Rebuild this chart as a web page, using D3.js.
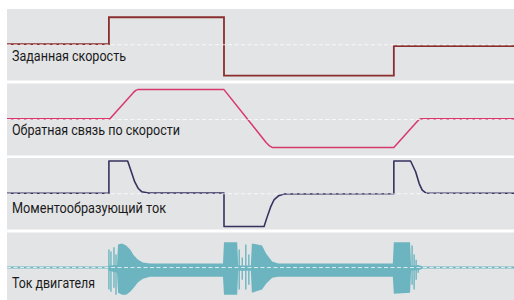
<!DOCTYPE html>
<html>
<head>
<meta charset="utf-8">
<script src="https://cdn.jsdelivr.net/npm/d3@7"></script>
<style>
  body { margin: 0; background: #fff; }
</style>
</head>
<body>
<div id="wrapper"></div>
<script>
// time axis runs 0..10 s, values are relative to the dashed zero line

const labels = ["Заданная скорость", "Обратная связь по скорости", "Моментообразующий ток", "Ток двигателя"]

const setpointTime = [0, 2.01, 4.28, 7.63, 10]
const setpointValue = [0.02, 1.0, -1.12, -0.05, -0.05]

const feedbackTime = [0, 2.03, 2.49, 2.54, 2.58, 4.28, 5.11, 5.17, 5.23, 7.63, 8.09, 8.13, 8.17, 10]
const feedbackValue = [0.03, 0.03, 0.97, 1.05, 1.08, 1.08, -0.83, -0.94, -1.01, -1.01, -0.07, 0.0, 0.03, 0.03]

const torqueTime = [0, 2.01, 2.01, 2.38, 2.52, 2.59, 2.66, 2.79, 4.28, 4.28, 5.07, 5.13, 5.20, 5.27, 5.36, 5.46, 7.63, 7.63, 7.96, 8.06, 8.13, 8.19, 8.26, 10]
const torqueValue = [0.02, 0.02, 1.19, 1.19, 0.43, 0.19, 0.07, 0.03, 0.03, -1.19, -1.19, -0.85, -0.48, -0.21, -0.07, -0.01, 0.0, 1.19, 1.19, 0.80, 0.37, 0.13, 0.03, 0.02]

// motor current: envelope of the oscillation (upper / lower)
const motorTime = [0, 1.99, 2.01, 2.17, 2.19, 2.27, 2.35, 2.43, 2.50, 2.58, 2.68, 2.82, 4.26, 4.28, 4.54, 4.56, 4.81, 4.83, 5.03, 5.11, 5.23, 5.35, 7.61, 7.63, 7.95, 7.97, 8.15, 8.19, 10]
const motorHigh = [0.04, 0.04, 0.08, 0.10, 0.89, 0.93, 0.85, 0.70, 0.47, 0.31, 0.19, 0.16, 0.16, 0.97, 0.97, 0.08, 0.08, 0.93, 0.85, 0.54, 0.23, 0.16, 0.16, 0.97, 0.97, 0.08, 0.08, 0.04, 0.04]
const motorLow = [-0.04, -0.04, -0.12, -0.2, -0.97, -1.05, -1.05, -0.93, -0.78, -0.58, -0.43, -0.35, -0.35, -1.05, -1.05, -0.12, -0.12, -0.97, -0.85, -0.62, -0.39, -0.35, -0.35, -1.01, -0.97, -0.12, -0.08, -0.04, -0.04]

// single spikes around the bursts
const spikeTime = [2.01, 2.05, 2.11, 2.15, 4.58, 4.64, 4.71, 4.77, 7.99, 8.03, 8.07, 8.11]
const spikeHigh = [0.70, 0.62, 0.78, 0.50, 0.70, 0.39, 0.89, 0.50, 0.85, 0.50, 0.30, 0.10]
const spikeLow = [-0.85, -0.93, -0.78, -1.05, -0.85, -0.47, -0.85, -0.66, -0.66, -0.85, -0.47, -0.20]

function drawChart() {

  // 1. Dimensions
  const dimensions = {
    width: 514,
    height: 300,
    left: 7,
  }

  const panels = [
    { top: 9, height: 71.5, domain: [-1.3, 1.3], color: "#8b2e2e", width: 1.8 },
    { top: 83.5, height: 72, domain: [-1.3, 1.3], color: "#d8386c", width: 1.5 },
    { top: 158, height: 71.5, domain: [-1.3, 1.3], color: "#37315f", width: 1.6 },
    { top: 232.5, height: 67.5, domain: [-1.25, 1.35], color: "#6cb5c0", width: 1.5 },
  ]
  const labelOffset = [51.5, 51.5, 54.5, 55]
  const labelWidth = [114, 168, 154, 83]

  // 2. Canvas
  const svg = d3.select("#wrapper")
    .append("svg")
      .attr("width", dimensions.width)
      .attr("height", dimensions.height)

  // 3. Scales
  const xScale = d3.scaleLinear()
    .domain([0, 10])
    .range([dimensions.left, dimensions.width])

  const yScales = panels.map(p => d3.scaleLinear()
    .domain(p.domain)
    .range([p.top + p.height, p.top]))

  // 4. Panels
  panels.forEach(p => {
    svg.append("rect")
      .attr("x", dimensions.left)
      .attr("y", p.top)
      .attr("width", dimensions.width - dimensions.left)
      .attr("height", p.height)
      .attr("fill", "#e3e4e6")
  })

  // 5. Signals
  const makeLine = y => d3.line()
    .x(d => xScale(d[0]))
    .y(d => y(d[1]))

  svg.append("path")
    .datum(d3.zip(setpointTime, setpointValue))
    .attr("d", makeLine(yScales[0]).curve(d3.curveStepAfter))
    .attr("fill", "none")
    .attr("stroke", panels[0].color)
    .attr("stroke-width", panels[0].width)

  svg.append("path")
    .datum(d3.zip(feedbackTime, feedbackValue))
    .attr("d", makeLine(yScales[1]))
    .attr("fill", "none")
    .attr("stroke", panels[1].color)
    .attr("stroke-width", panels[1].width)
    .attr("stroke-linejoin", "round")

  svg.append("path")
    .datum(d3.zip(torqueTime, torqueValue))
    .attr("d", makeLine(yScales[2]))
    .attr("fill", "none")
    .attr("stroke", panels[2].color)
    .attr("stroke-width", panels[2].width)
    .attr("stroke-linejoin", "round")

  const motorArea = d3.area()
    .x(d => xScale(d[0]))
    .y0(d => yScales[3](d[2]))
    .y1(d => yScales[3](d[1]))

  svg.append("path")
    .datum(d3.zip(motorTime, motorHigh, motorLow))
    .attr("d", motorArea)
    .attr("fill", panels[3].color)

  svg.append("g")
    .selectAll("line")
    .data(d3.zip(spikeTime, spikeHigh, spikeLow))
    .join("line")
      .attr("x1", d => xScale(d[0]))
      .attr("x2", d => xScale(d[0]))
      .attr("y1", d => yScales[3](d[1]))
      .attr("y2", d => yScales[3](d[2]))
      .attr("stroke", panels[3].color)
      .attr("stroke-width", 1.4)

  // 6. Zero lines and labels
  panels.forEach((p, i) => {
    svg.append("line")
      .attr("x1", dimensions.left)
      .attr("x2", dimensions.width)
      .attr("y1", yScales[i](0))
      .attr("y2", yScales[i](0))
      .attr("stroke", "#fff")
      .attr("stroke-opacity", 0.75)
      .attr("stroke-width", 1)
      .attr("stroke-dasharray", "4 2.5")

    svg.append("text")
      .attr("x", 12)
      .attr("y", p.top + labelOffset[i])
      .attr("textLength", labelWidth[i])
      .attr("lengthAdjust", "spacingAndGlyphs")
      .style("font-family", "'Liberation Sans Narrow', 'Roboto', sans-serif")
      .style("font-size", "15px")
      .attr("fill", "#1a1a1a")
      .text(labels[i])
  })
}
drawChart()
</script>
</body>
</html>
